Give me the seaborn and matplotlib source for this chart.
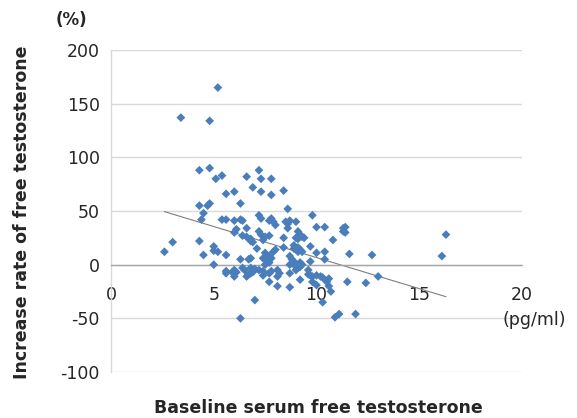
import numpy as np
import pandas as pd
import matplotlib
matplotlib.use("Agg")
import matplotlib.pyplot as plt
import seaborn as sns

# ─── Data ────────────────────────────────────────────────────────────────────
baseline_ft = [
    2.6, 3.0, 3.4, 4.3, 4.3, 4.3, 4.4, 4.5, 4.5, 4.7, 4.8, 4.8, 4.8, 5.0, 5.0,
    5.0, 5.1, 5.2, 5.2, 5.4, 5.4, 5.6, 5.6, 5.6, 5.6, 5.6, 5.9, 6.0, 6.0, 6.0,
    6.0, 6.0, 6.1, 6.1, 6.3, 6.3, 6.3, 6.3, 6.4, 6.4, 6.4, 6.5, 6.6, 6.6, 6.6,
    6.6, 6.7, 6.7, 6.8, 6.8, 6.8, 6.8, 6.8, 6.9, 6.9, 6.9, 7.0, 7.0, 7.1, 7.2,
    7.2, 7.2, 7.2, 7.3, 7.3, 7.3, 7.3, 7.4, 7.4, 7.4, 7.4, 7.5, 7.5, 7.5, 7.6,
    7.7, 7.7, 7.7, 7.7, 7.7, 7.7, 7.7, 7.8, 7.8, 7.8, 7.8, 7.8, 7.9, 7.9, 8.0,
    8.0, 8.1, 8.1, 8.1, 8.2, 8.4, 8.4, 8.4, 8.5, 8.6, 8.6, 8.6, 8.7, 8.7, 8.7,
    8.7, 8.7, 8.8, 8.9, 8.9, 8.9, 9.0, 9.0, 9.0, 9.0, 9.1, 9.1, 9.1, 9.1, 9.1,
    9.2, 9.2, 9.2, 9.2, 9.2, 9.3, 9.3, 9.3, 9.4, 9.6, 9.6, 9.7, 9.7, 9.7, 9.8,
    9.8, 9.8, 10.0, 10.0, 10.0, 10.0, 10.2, 10.3, 10.3, 10.4, 10.4, 10.4, 10.5,
    10.6, 10.6, 10.7, 10.8, 10.9, 11.1, 11.3, 11.3, 11.4, 11.4, 11.5, 11.6,
    11.9, 12.4, 12.7, 13.0, 16.1, 16.3,
]
increase_rate = [
    12, 21, 137, 88, 55, 22, 42, 48, 9, 55, 57, 90, 134, 17, 13,
    0, 80, 165, 12, 83, 42, 66, 42, 9, -6, -8, -7, 68, 41, 30,
    -5, -11, 33, -7, 57, 42, 5, -50, 41, 27, -3, -5, 82, 34, 26,
    -11, 5, -9, 24, 22, 6, -3, -8, 72, 21, -7, -33, -4, 15, 88,
    46, 31, -5, 80, 68, 43, 28, 23, 6, -6, -10, 26, 11, 0, 3,
    41, 27, 8, 5, 2, -8, -16, 80, 65, 43, 6, -6, 40, 12, 37,
    14, -5, -11, -20, -8, 69, 25, 16, 40, 52, 38, 34, 41, 8, 0,
    -8, -21, 5, 18, 15, 3, 40, 25, -2, -5, 31, 24, 16, 12, -3,
    28, 14, 2, -2, -14, 26, 12, 0, 25, -5, -9, 17, 3, -10, 46,
    -11, -16, 35, 11, -10, -19, -11, -12, -35, 35, 12, 5, -16,
    -13, -20, -25, 23, -49, -46, 34, 31, 30, 35, -16, 10,
    -46, -17, 9, -11, 8, 28,
]
df = pd.DataFrame({"baseline": baseline_ft, "increase": increase_rate})

x_ticks = [0, 5, 10, 15, 20]
y_ticks = [-100, -50, 0, 50, 100, 150, 200]

# ─── Figure ───────────────────────────────────────────────────────────────────
sns.set_style("white")
plt.rcParams["font.family"] = ["DejaVu Sans"]
plt.rcParams["axes.unicode_minus"] = False

W, H = 577, 418
fig = plt.figure(figsize=(W / 100, H / 100), dpi=100)
ax = fig.add_axes([111 / W, 1 - 372 / H, (522 - 111) / W, (372 - 50) / H])

grid_col = "#d9d9d9"
for yv in y_ticks:
    ax.axhline(yv, color=grid_col, lw=1.0, zorder=0)

sns.scatterplot(data=df, x="baseline", y="increase", marker="D", s=20,
                color="#4a7ebb", edgecolor="none", ax=ax, zorder=3)
sns.regplot(data=df, x="baseline", y="increase", scatter=False, ci=None,
            truncate=True, line_kws=dict(color="#7f7f7f", lw=0.8), ax=ax)

ax.set_xlim(0, 20)
ax.set_ylim(-100, 200)
ax.set_xticks(x_ticks)
ax.set_yticks(y_ticks)
ax.set_xlabel("")
ax.set_ylabel("")

for s in ["top", "right"]:
    ax.spines[s].set_visible(False)
ax.spines["left"].set_color(grid_col)
ax.spines["left"].set_linewidth(1.0)
ax.spines["bottom"].set_position(("data", 0))
ax.spines["bottom"].set_color("#a6a6a6")
ax.spines["bottom"].set_linewidth(1.0)

ax.tick_params(axis="x", length=4, width=1, color="#a6a6a6", pad=11,
               labelsize=12.5, direction="out")
ax.tick_params(axis="y", length=0, pad=8, labelsize=12.5)

fig.text(22 / W, 1 - 212 / H, "Increase rate of free testosterone",
         rotation=90, ha="center", va="center", fontsize=12.5, fontweight="bold")
fig.text(318 / W, 1 - 408 / H, "Baseline serum free testosterone",
         ha="center", va="center", fontsize=12.5, fontweight="bold")
fig.text(71 / W, 1 - 20 / H, "(%)", ha="center", va="center",
         fontsize=12, fontweight="bold")
fig.text(534 / W, 1 - 320 / H, "(pg/ml)", ha="center", va="center",
         fontsize=12.5)

fig.savefig("out.png", dpi=100)
